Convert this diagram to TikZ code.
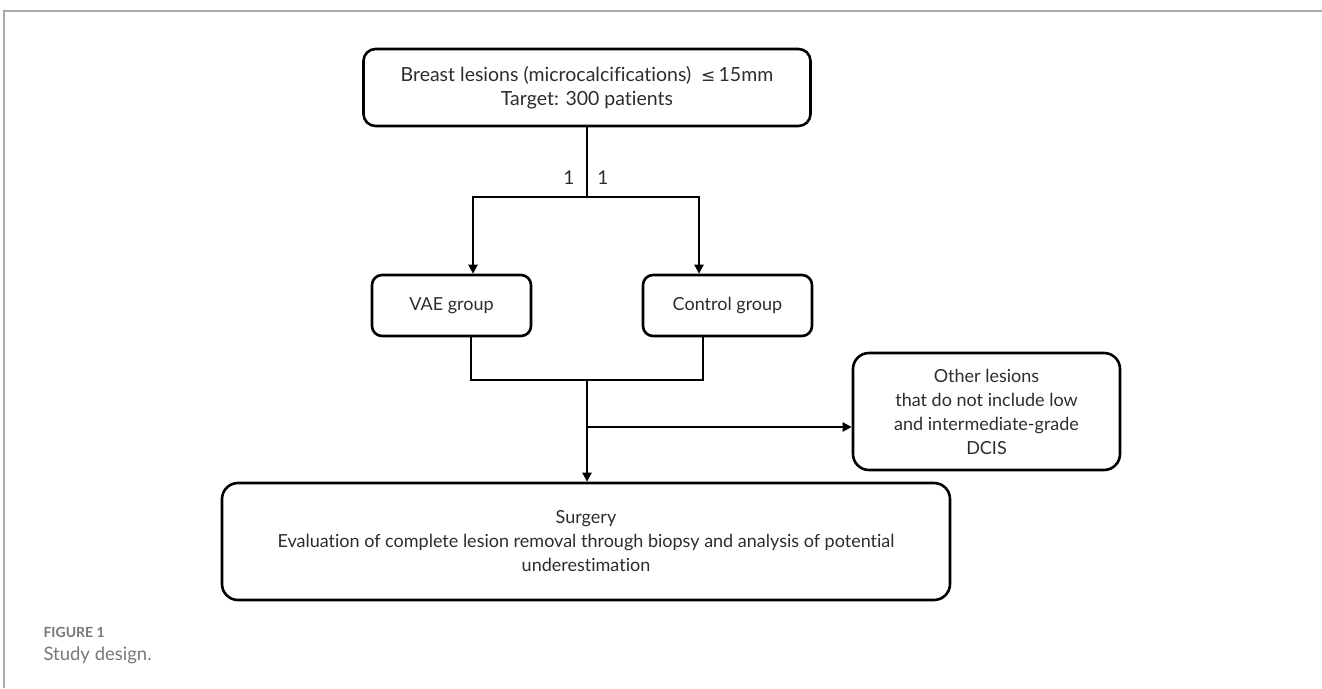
\documentclass[tikz,border=0pt]{standalone}
\usepackage{fontspec}
\setmainfont{Lato}[Ligatures=NoCommon]
\newfontfamily\symfont{DejaVu Sans}
\usepackage{tikz}
\usetikzlibrary{arrows.meta,positioning,calc}
\definecolor{boxtext}{RGB}{45,45,45}
\definecolor{framegrey}{RGB}{170,170,170}
\definecolor{capgrey}{RGB}{120,120,120}
\tikzset{
    flowbox/.style={draw, rounded corners=12pt, line width=2.6pt,
                    align=center, text=boxtext,
                    font=\fontsize{18}{24}\selectfont,
                    minimum width=#1},
    flowbox/.default=160pt,
}

\begin{document}
\begin{tikzpicture}[
    x=1pt, y=-1pt,
    arr/.style={-{Triangle[length=9pt,width=9pt]}, line width=2.6pt},
    link/.style={line width=2.6pt},
]
    \useasboundingbox (0,0) rectangle (1322,688);
    % frame of the figure
    \draw[framegrey, line width=1.2pt] (1322,11) -- (4,11) -- (4,688);

    \node[flowbox=447pt, minimum height=77pt, font=\fontsize{19.5}{24}\selectfont] (lesions) at (587,87.5)
        {Breast lesions (microcalcifications)\ \ {\symfont\fontsize{17}{24}\selectfont ≤}\,15mm\\Target: 300 patients};
    \node[flowbox=159pt, minimum height=61pt, rounded corners=10pt] (vae) at (451.5,305.5) {VAE group};
    \node[flowbox=169pt, minimum height=61pt, rounded corners=10pt] (control) at (727.5,305.5) {Control group};
    \node[flowbox=267pt, minimum height=117pt, rounded corners=16pt] (other) at (986.5,411.5)
        {Other lesions\\that do not include low\\and intermediate-grade\\DCIS};
    \node[flowbox=728pt, minimum height=117pt, rounded corners=16pt] (surgery) at (586,541.5)
        {Surgery\\Evaluation of complete lesion removal through biopsy and analysis of potential\\underestimation};

    \coordinate (split) at (587,197);
    \coordinate (merge) at (587,380);
    \coordinate (branch) at (587,427);

    % randomisation 1:1
    \draw[link] (lesions.south) -- (split);
    \draw[arr] (split) -| ([xshift=21.5pt]vae.north);
    \draw[arr] (split) -| ([xshift=-28.5pt]control.north);
    \node[text=boxtext, font=\fontsize{19}{20}\selectfont] (ratioa) at (569,178) {1};
    \node[text=boxtext, font=\fontsize{19}{20}\selectfont] (ratiob) at (603,178) {1};

    % both groups to surgery
    \draw[link] ([xshift=19.5pt]vae.south) |- (merge) -| ([xshift=-24.5pt]control.south);
    \draw[arr] (merge) -- (merge |- surgery.north);
    \draw[arr] (branch) -- (branch -| other.west);

    % caption
    \node[anchor=west, text=capgrey, font=\fontsize{14}{16}\selectfont\bfseries] (figlabel) at (40,632) {FIGURE 1};
    \node[anchor=west, text=capgrey, font=\fontsize{18.5}{20}\selectfont] (figtitle) at (40,655) {Study design.};
\end{tikzpicture}
\end{document}
